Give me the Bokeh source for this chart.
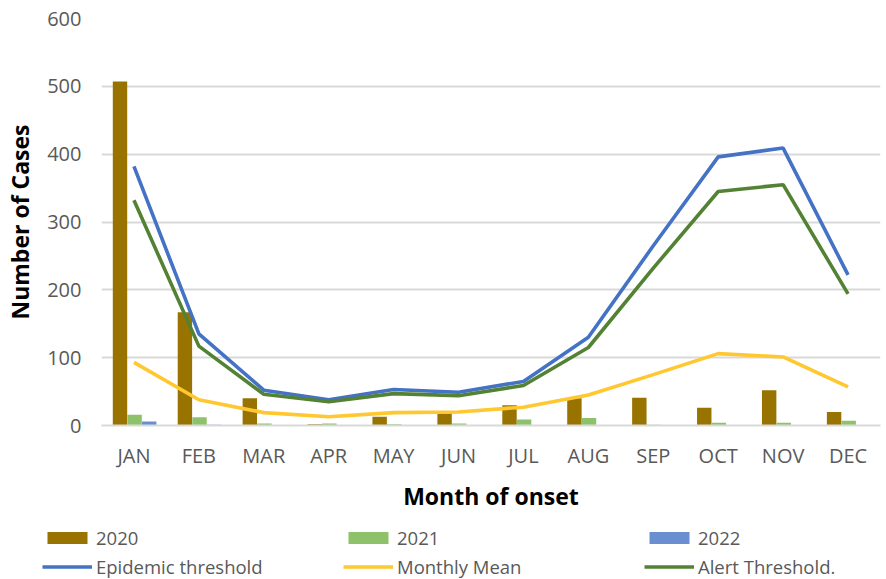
from bokeh.plotting import figure
from bokeh.models import ColumnDataSource, Legend, LegendItem, Range1d, FactorRange
from bokeh.layouts import column
from bokeh.transform import dodge
from bokeh.embed import file_html
from bokeh.resources import INLINE

months = ["JAN", "FEB", "MAR", "APR", "MAY", "JUN", "JUL", "AUG", "SEP", "OCT", "NOV", "DEC"]
cases_2020 = [507, 167, 40, 2, 13, 18, 30, 40, 41, 26, 52, 20]
cases_2021 = [16, 12, 3, 3, 2, 3, 9, 11, 1, 4, 4, 7]
cases_2022 = [6, 1, 0, 0, 0, 0, 0, 0, 0, 0, 0, 0]
epidemic_threshold = [382, 135, 52, 38, 53, 49, 65, 130, 265, 396, 409, 222]
monthly_mean = [93, 38, 19, 13, 19, 20, 27, 45, 75, 106, 101, 57]
alert_threshold = [332, 117, 46, 35, 47, 44, 59, 115, 232, 345, 355, 194]
y_ticks = [0, 100, 200, 300, 400, 500, 600]
series_labels = ["2020", "2021", "2022", "Epidemic threshold", "Monthly Mean", "Alert Threshold."]

C2020, C2021, C2022 = "#997300", "#8DC26A", "#6A8FD0"
CEPI, CMEAN, CALERT = "#4472C4", "#FFC830", "#548235"

src = ColumnDataSource(dict(month=months, c2020=cases_2020, c2021=cases_2021, c2022=cases_2022,
                            epi=epidemic_threshold, mean=monthly_mean, alert=alert_threshold))

FONT = "Open Sans"
LW = 3.6


def add_series(fig, visible=True):
    bw = 0.222
    rs = [
        fig.vbar(x=dodge("month", -0.215, range=fig.x_range), top="c2020", width=bw, source=src,
                 fill_color=C2020, line_color=None),
        fig.vbar(x=dodge("month", 0.01, range=fig.x_range), top="c2021", width=bw, source=src,
                 fill_color=C2021, line_color=None),
        fig.vbar(x=dodge("month", 0.235, range=fig.x_range), top="c2022", width=bw, source=src,
                 fill_color=C2022, line_color=None),
        fig.line(x="month", y="epi", source=src, line_color=CEPI, line_width=LW),
        fig.line(x="month", y="mean", source=src, line_color=CMEAN, line_width=LW),
        fig.line(x="month", y="alert", source=src, line_color=CALERT, line_width=LW),
    ]
    for r in rs:
        r.visible = visible
    return rs


p = figure(width=886, height=520, x_range=FactorRange(*months), y_range=Range1d(0, 600),
           output_backend="svg", toolbar_location=None,
           min_border_left=101, min_border_right=6, min_border_top=18, min_border_bottom=95)
p.frame_align = False
p.outline_line_color = None
p.background_fill_color = "white"
p.border_fill_color = "white"
add_series(p)

# axes
p.yaxis.ticker = y_ticks
p.yaxis.axis_line_color = None
p.yaxis.major_tick_line_color = None
p.yaxis.minor_tick_line_color = None
p.yaxis.major_tick_out = 0
p.yaxis.major_label_text_font = FONT
p.yaxis.major_label_text_font_size = "20px"
p.yaxis.major_label_text_color = "#595959"
p.yaxis.major_label_standoff = 20
p.yaxis.axis_label = "Number of Cases"
p.yaxis.axis_label_text_font = FONT
p.yaxis.axis_label_text_font_size = "23px"
p.yaxis.axis_label_text_font_style = "bold"
p.yaxis.axis_label_text_color = "#000000"
p.yaxis.axis_label_standoff = 8

p.xaxis.axis_line_color = "#D9D9D9"
p.xaxis.axis_line_width = 2
p.xaxis.major_tick_line_color = None
p.xaxis.minor_tick_line_color = None
p.xaxis.major_tick_out = 0
p.xaxis.major_label_text_font = FONT
p.xaxis.major_label_text_font_size = "20px"
p.xaxis.major_label_text_color = "#595959"
p.xaxis.major_label_standoff = 16
p.xaxis.axis_label = "Month of onset"
p.xaxis.axis_label_text_font = FONT
p.xaxis.axis_label_text_font_size = "23px"
p.xaxis.axis_label_text_font_style = "bold"
p.xaxis.axis_label_text_color = "#000000"
p.xaxis.axis_label_standoff = 8

p.xgrid.grid_line_color = None
p.ygrid.grid_line_color = "#D9D9D9"
p.ygrid.grid_line_width = 2

# legend strip: same series as hidden renderers, only the legend shows
q = figure(width=886, height=59, x_range=FactorRange(*months), y_range=Range1d(0, 600),
           output_backend="svg", toolbar_location=None,
           min_border_left=0, min_border_right=0, min_border_top=0, min_border_bottom=0,
           x_axis_type=None, y_axis_type=None)
q.frame_align = False
q.outline_line_color = None
q.xgrid.visible = False
q.ygrid.visible = False
q_renderers = add_series(q, visible=False)

legend = Legend(items=[LegendItem(label=lab, renderers=[r]) for lab, r in
                       zip(series_labels, q_renderers)],
                orientation="horizontal", ncols=3, location=(42, 0))
legend.glyph_width = 50
legend.glyph_height = 15
legend.label_width = 243
legend.label_standoff = 4
legend.spacing = 4
legend.padding = 0
legend.margin = 0
legend.border_line_color = None
legend.background_fill_alpha = 0
legend.inactive_fill_alpha = 0
legend.label_text_font = FONT
legend.label_text_font_size = "18.5px"
legend.label_text_color = "#595959"
legend.label_height = 22
q.add_layout(legend, "center")

layout = column(p, q, spacing=0)
open("out.html", "w").write(file_html(layout, INLINE))
